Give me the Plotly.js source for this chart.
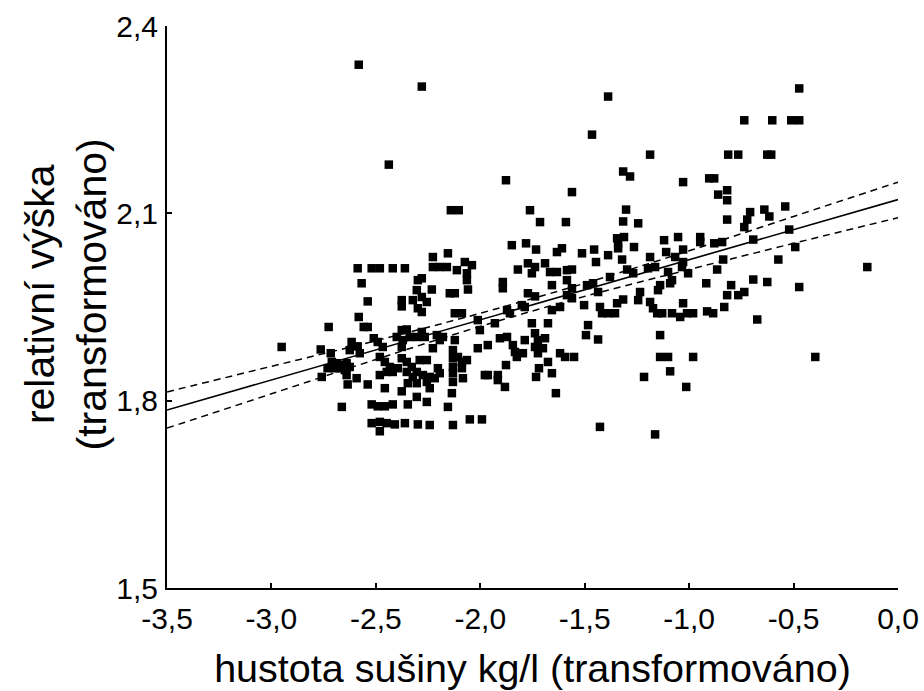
<!DOCTYPE html>
<html>
<head>
<meta charset="utf-8">
<script src="https://cdn.plot.ly/plotly-3.0.1.min.js"></script>
<style>
  html, body { margin: 0; padding: 0; background: #ffffff; }
  #chart { width: 924px; height: 691px; }
</style>
</head>
<body>
<div id="chart"></div>
<script>
// Dry-matter density (transformed) of each sample
const densityX = [
  -2.951, -2.587, -2.520, -2.481, -2.419, -2.361, -2.568, -2.539, -2.582, -2.726,
  -2.558, -2.539, -2.764, -2.716, -2.616, -2.587, -2.625, -2.577, -2.510, -2.491,
  -2.467, -2.376, -2.352, -2.400, -2.371, -2.338, -2.304, -2.376, -2.323, -2.299,
  -2.304, -2.299, -2.376, -2.376, -2.711, -2.687, -2.663, -2.640, -2.697, -2.673,
  -2.649, -2.731, -2.625, -2.759, -2.640, -2.635, -2.592, -2.539, -2.481, -2.457,
  -2.433, -2.448, -2.419, -2.395, -2.481, -2.457, -2.376, -2.352, -2.328, -2.304,
  -2.352, -2.323, -2.376, -2.347, -2.304, -2.304, -2.663, -2.520, -2.491, -2.457,
  -2.419, -2.347, -2.520, -2.481, -2.448, -2.409, -2.361, -2.299, -2.481,
  -1.849, -1.781, -1.733, -1.633, -1.609, -2.227, -2.155, -2.227, -2.194, -2.160,
  -2.112, -2.074, -2.040, -2.064, -2.064, -2.280, -2.232, -2.146, -2.122, -2.059,
  -1.892, -1.892, -1.820, -1.772, -1.738, -1.753, -1.690, -1.666, -1.633, -1.585,
  -1.585, -1.657, -1.772, -1.738, -1.585, -2.280, -2.256, -2.280, -2.122, -2.088,
  -2.012, -2.002, -1.930, -1.872, -1.858, -1.801, -1.787, -1.657, -1.618, -2.280,
  -2.266, -2.208, -2.179, -2.194, -2.122, -2.227, -2.131, -2.131, -2.107, -2.088,
  -2.064, -2.131, -2.088, -2.012, -1.964, -1.906, -1.872, -1.844, -1.834, -1.825,
  -1.796, -1.753, -1.676, -1.787, -1.738, -1.724, -1.690, -1.738, -1.700, -1.724,
  -1.618, -1.594, -1.676, -1.877, -2.290, -2.256, -2.203, -2.194, -2.275, -2.242,
  -2.218, -2.256, -2.131, -2.131, -2.083, -1.978, -1.964, -1.916, -1.916, -1.882,
  -1.733, -1.719, -1.657, -2.242, -2.136, -2.256, -1.638, -2.155, -2.050, -1.992,
  -2.242, -2.131,
  -1.316, -1.244, -1.345, -1.312, -1.340, -1.264, -1.120, -1.053, -0.947, -0.947,
  -0.880, -1.513, -1.455, -1.446, -1.388, -1.321, -1.340, -1.187, -1.110, -1.067,
  -1.029, -1.029, -1.034, -1.561, -1.297, -1.268, -1.197, -1.163, -1.101, -1.005,
  -0.866, -1.379, -1.489, -1.460, -1.561, -1.436, -1.091, -1.082, -0.918, -1.139,
  -1.149, -1.235, -1.244, -1.561, -1.503, -1.427, -1.417, -1.388, -1.355, -1.345,
  -1.316, -1.187, -1.173, -1.153, -1.129, -1.082, -1.043, -1.029, -1.010, -0.981,
  -0.914, -0.885, -1.484, -1.494, -1.436, -1.139, -1.551, -1.139, -1.101, -0.981,
  -1.091, -1.216, -1.014, -1.427, -1.163,
  -0.813, -0.765, -0.626, -0.607, -0.818, -0.818, -0.861, -0.708, -0.722, -0.736,
  -0.640, -0.616, -0.540, -0.818, -0.842, -0.693, -0.521, -0.492, -0.837, -0.573,
  -0.147, -0.799, -0.818, -0.765, -0.736, -0.832, -0.693, -0.626, -0.473, -0.674,
  -0.396,
  -1.388, -1.465, -0.473, -0.736, -0.602, -0.511, -0.473, -1.187, -1.316, -1.283,
  -1.029, -0.904, -0.880, -1.561, -1.302, -2.582, -2.280, -2.438, -1.877, -2.141,
  -2.103, -1.762, -1.714, -1.590
];

// Relative height (transformed) of each sample
const heightY = [
  1.886, 2.012, 2.012, 2.012, 2.012, 2.012, 1.988, 1.959, 1.934, 1.918,
  1.918, 1.918, 1.882, 1.876, 1.894, 1.887, 1.881, 1.876, 1.900, 1.894,
  1.886, 1.913, 1.914, 1.902, 1.897, 1.902, 1.902, 1.886, 1.961, 1.993,
  1.977, 1.948, 1.961, 1.951, 1.862, 1.860, 1.857, 1.860, 1.852, 1.852,
  1.849, 1.852, 1.854, 1.838, 1.841, 1.826, 1.836, 1.826, 1.870, 1.862,
  1.854, 1.846, 1.846, 1.852, 1.841, 1.820, 1.868, 1.862, 1.854, 1.846,
  1.846, 1.838, 1.815, 1.828, 1.828, 1.806, 1.790, 1.794, 1.791, 1.791,
  1.794, 1.794, 1.764, 1.766, 1.764, 1.762, 1.764, 1.762, 1.751,
  2.049, 2.052, 2.042, 2.038, 2.044, 2.030, 2.036, 2.014, 2.014, 2.014,
  2.009, 2.022, 2.017, 2.004, 1.993, 1.996, 1.978, 1.972, 1.972, 1.978,
  1.990, 1.980, 2.010, 2.020, 2.014, 2.004, 2.020, 2.006, 2.006, 2.009,
  1.993, 1.985, 1.972, 1.967, 1.969, 1.966, 1.958, 1.942, 1.940, 1.940,
  1.929, 1.913, 1.924, 1.945, 1.940, 1.953, 1.950, 1.945, 1.950, 1.910,
  1.902, 1.905, 1.902, 1.897, 1.897, 1.884, 1.881, 1.868, 1.870, 1.862,
  1.865, 1.854, 1.852, 1.884, 1.889, 1.900, 1.902, 1.889, 1.878, 1.870,
  1.876, 1.924, 1.924, 1.897, 1.908, 1.897, 1.900, 1.886, 1.884, 1.876,
  1.876, 1.870, 1.862, 1.857, 1.865, 1.865, 1.852, 1.844, 1.841, 1.838,
  1.836, 1.830, 1.844, 1.830, 1.836, 1.841, 1.841, 1.841, 1.833, 1.822,
  1.838, 1.852, 1.844, 1.820, 1.812, 1.798, 1.812, 1.790, 1.770, 1.770,
  1.761, 1.761,
  2.087, 2.084, 2.060, 2.062, 2.052, 2.046, 2.057, 2.062, 2.062, 2.054,
  2.052, 2.036, 2.042, 2.022, 2.033, 2.026, 2.044, 2.030, 2.038, 2.030,
  2.042, 2.022, 2.014, 2.010, 2.010, 2.004, 2.012, 2.014, 2.006, 2.004,
  2.010, 1.998, 1.985, 1.988, 1.980, 1.974, 1.988, 1.993, 1.988, 1.985,
  1.977, 1.974, 1.961, 1.964, 1.953, 1.950, 1.940, 1.940, 1.940, 1.956,
  1.962, 1.958, 1.948, 1.940, 1.940, 1.940, 1.934, 1.956, 1.940, 1.940,
  1.943, 1.940, 1.921, 1.905, 1.898, 1.905, 1.870, 1.870, 1.870, 1.870,
  1.847, 1.838, 1.822, 1.758, 1.746,
  2.194, 2.194, 2.194, 2.194, 2.137, 2.121, 2.130, 2.102, 2.090, 2.078,
  2.106, 2.095, 2.111, 2.090, 2.054, 2.058, 2.074, 2.046, 2.026, 2.026,
  2.014, 1.985, 1.969, 1.969, 1.974, 1.950, 1.994, 1.990, 1.982, 1.930,
  1.870,
  2.287, 2.226, 2.300, 2.249, 2.249, 2.249, 2.249, 2.194, 2.167, 2.159,
  2.150, 2.156, 2.156, 2.134, 2.106, 2.338, 2.303, 2.178, 2.153, 2.105,
  2.105, 2.105, 2.086, 2.086
];

// Fitted regression line and its 95% confidence band
const fitX      = [-3.5, -3.0, -2.5, -2.0, -1.5, -1.0, -0.5, 0.0];
const fitY      = [1.785, 1.833, 1.881, 1.929, 1.977, 2.025, 2.073, 2.122];
const bandUpper = [1.814, 1.855, 1.896, 1.940, 1.988, 2.040, 2.095, 2.150];
const bandLower = [1.756, 1.811, 1.866, 1.919, 1.967, 2.010, 2.052, 2.093];

// Axis ticks (decimal comma)
const xTickVals = [-3.5, -3.0, -2.5, -2.0, -1.5, -1.0, -0.5, 0.0];
const xTickText = ['-3,5', '-3,0', '-2,5', '-2,0', '-1,5', '-1,0', '-0,5', '0,0'];
const yTickVals = [1.5, 1.8, 2.1, 2.4];
const yTickText = ['1,5', '1,8', '2,1', '2,4'];

// Y-axis caption, one entry per line
const yTitleLines = ['relativní výška', '(transformováno)'];

const FONT = '"Liberation Sans", Arial, Helvetica, sans-serif';

const traces = [
  {
    type: 'scatter', mode: 'markers',
    x: densityX, y: heightY,
    marker: { symbol: 'square', size: 8.5, color: '#000000', line: { width: 0 } },
    hoverinfo: 'skip'
  },
  {
    type: 'scatter', mode: 'lines', x: fitX, y: bandUpper,
    line: { color: '#000000', width: 1.5, dash: '7px,5px', shape: 'spline' },
    hoverinfo: 'skip'
  },
  {
    type: 'scatter', mode: 'lines', x: fitX, y: bandLower,
    line: { color: '#000000', width: 1.5, dash: '7px,5px', shape: 'spline' },
    hoverinfo: 'skip'
  },
  {
    type: 'scatter', mode: 'lines', x: fitX, y: fitY,
    line: { color: '#000000', width: 1.6 },
    hoverinfo: 'skip'
  }
];

const axisCommon = {
  showgrid: false, zeroline: false,
  showline: true, linecolor: '#000000', linewidth: 2,
  ticks: 'inside', ticklen: 5, tickwidth: 2, tickcolor: '#000000',
  tickfont: { family: FONT, size: 30, color: '#000000' },
  automargin: false, fixedrange: true
};

// Two-line rotated caption of the y axis, placed left of the tick labels
const yTitleAnnotations = yTitleLines.map((line, i) => ({
  text: line,
  xref: 'paper', yref: 'paper',
  x: [-0.1737, -0.1020][i], y: 0.523,
  xanchor: 'center', yanchor: 'middle',
  textangle: -90, showarrow: false,
  font: { family: FONT, size: 41, color: '#000000' }
}));

const layout = {
  width: 924, height: 691,
  margin: { l: 167, r: 26, t: 26, b: 103, pad: 0 },
  paper_bgcolor: '#ffffff', plot_bgcolor: '#ffffff',
  font: { family: FONT, color: '#000000' },
  showlegend: false,
  xaxis: Object.assign({}, axisCommon, {
    range: [-3.5, 0],
    tickmode: 'array', tickvals: xTickVals, ticktext: xTickText,
    ticklabelstandoff: 3,
    title: { text: 'hustota sušiny kg/l (transformováno)', font: { family: FONT, size: 39.5, color: '#000000' }, standoff: 20 }
  }),
  yaxis: Object.assign({}, axisCommon, {
    range: [1.5, 2.4],
    tickmode: 'array', tickvals: yTickVals, ticktext: yTickText,
    ticklabelstandoff: 1
  }),
  annotations: yTitleAnnotations
};

Plotly.newPlot('chart', traces, layout, { staticPlot: true, displayModeBar: false });
</script>
</body>
</html>
